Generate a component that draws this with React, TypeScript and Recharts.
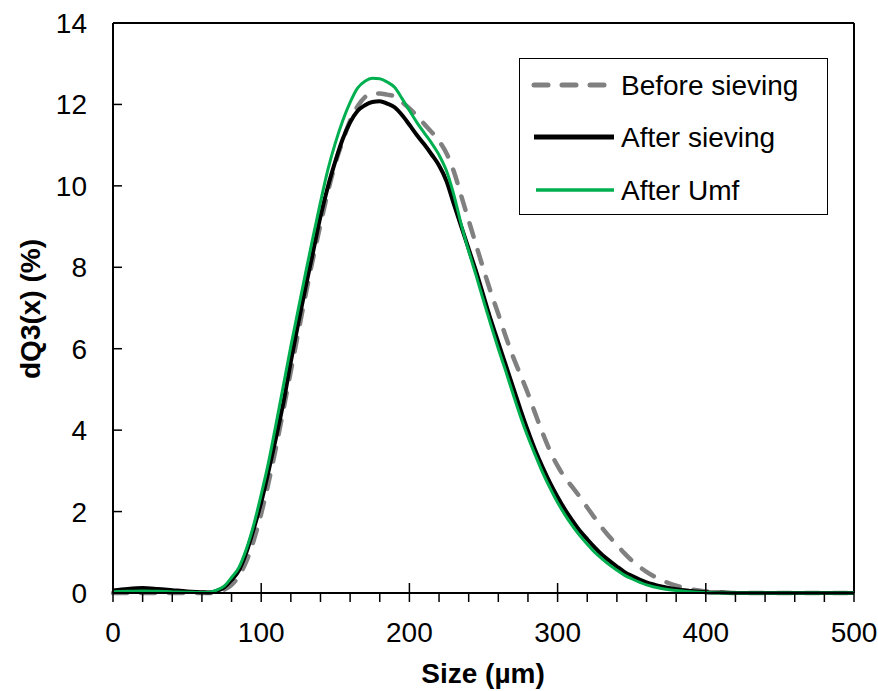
import React from "react";
import { Label, Legend, Line, LineChart, ReferenceLine, XAxis, YAxis } from "recharts";

if (typeof document !== "undefined") {
  document.body.style.margin = "0";
}

const sizes = [
  0, 10, 20, 30, 40, 50, 60, 65, 70, 75, 80, 85, 90, 95, 100, 105, 110, 115, 120, 125, 130, 135, 140,
  145, 150, 155, 160, 165, 170, 175, 180, 185, 190, 195, 200, 205, 210, 215, 220, 225, 230, 235, 240,
  245, 250, 255, 260, 265, 270, 275, 280, 285, 290, 295, 300, 305, 310, 315, 320, 325, 330, 335, 340,
  345, 350, 360, 370, 380, 390, 400, 410, 420, 440, 460, 480, 500,
];

const beforeSieving = [
  0, 0, 0, 0, 0, 0, 0, 0, 0.02, 0.08, 0.2, 0.42, 0.78, 1.3, 1.95, 2.72, 3.58, 4.5, 5.45, 6.4, 7.33,
  8.22, 9.05, 9.85, 10.55, 11.1, 11.6, 11.95, 12.18, 12.27, 12.27, 12.24, 12.2, 12.06, 11.9, 11.72,
  11.52, 11.32, 11.1, 10.8, 10.35, 9.75, 9.15, 8.55, 7.95, 7.38, 6.85, 6.3, 5.8, 5.35, 4.9, 4.4, 3.92,
  3.48, 3.12, 2.83, 2.6, 2.36, 2.1, 1.85, 1.6, 1.38, 1.18, 0.98, 0.8, 0.52, 0.32, 0.18, 0.09, 0.04,
  0.015, 0, 0, 0, 0, 0,
];

const afterSieving = [
  0.06, 0.1, 0.12, 0.1, 0.07, 0.04, 0.02, 0.01, 0.05, 0.14, 0.32, 0.56, 1.0, 1.58, 2.23, 3.0, 3.82,
  4.68, 5.69, 6.63, 7.52, 8.38, 9.25, 9.98, 10.6, 11.15, 11.56, 11.84, 11.98, 12.06, 12.08, 12.02,
  11.93, 11.74, 11.5, 11.25, 11.02, 10.77, 10.5, 10.12, 9.55, 9.0, 8.45, 7.9, 7.3, 6.7, 6.15, 5.6,
  5.05, 4.5, 3.98, 3.5, 3.08, 2.7, 2.36, 2.05, 1.78, 1.53, 1.32, 1.12, 0.94, 0.79, 0.65, 0.52, 0.42,
  0.26, 0.16, 0.09, 0.05, 0.02, 0.01, 0, 0, 0, 0, 0,
];

const afterUmf = [
  0.03, 0.04, 0.05, 0.04, 0.03, 0.02, 0.01, 0.02, 0.07, 0.17, 0.38, 0.63, 1.08, 1.68, 2.42, 3.22,
  4.15, 5.1, 6.06, 6.97, 7.87, 8.75, 9.6, 10.4, 11.05, 11.6, 12.05, 12.4, 12.57, 12.64, 12.63, 12.55,
  12.42, 12.15, 11.85, 11.56, 11.3, 11.05, 10.76, 10.37, 9.78, 9.05, 8.4, 7.8, 7.18, 6.58, 6.0, 5.45,
  4.88, 4.33, 3.83, 3.38, 2.95, 2.57, 2.22, 1.92, 1.65, 1.41, 1.2, 1.0, 0.84, 0.69, 0.56, 0.44, 0.35,
  0.2, 0.11, 0.06, 0.03, 0.01, 0, 0, 0, 0, 0, 0,
];

const xTicks = [
  0, 20, 40, 60, 80, 100, 120, 140, 160, 180, 200, 220, 240, 260, 280, 300, 320, 340, 360, 380, 400,
  420, 440, 460, 480, 500,
];
const yTicks = [0, 2, 4, 6, 8, 10, 12, 14];

const data = sizes.map((s, i) => ({
  size: s,
  before: beforeSieving[i],
  after: afterSieving[i],
  umf: afterUmf[i],
}));

const FONT = "'Liberation Sans', Arial, sans-serif";

const XTick = (props: any) => {
  const { x, y, payload } = props;
  const v = payload.value;
  const major = v % 100 === 0;
  const cross = major && v > 0 && v < 500;
  return (
    <g>
      <line x1={x} x2={x} y1={cross ? y - 10 : y} y2={y + 9} stroke="#000" strokeWidth={1.5} />
      {major && (
        <text x={x} y={y + 49} textAnchor="middle" fontSize={28} fontFamily={FONT} fill="#000">
          {v}
        </text>
      )}
    </g>
  );
};

const YTick = (props: any) => {
  const { x, y, payload } = props;
  return (
    <g>
      <line x1={x} x2={x + 9} y1={y} y2={y} stroke="#000" strokeWidth={1.5} />
      <text x={x - 26} y={y + 10} textAnchor="end" fontSize={28} fontFamily={FONT} fill="#000">
        {payload.value}
      </text>
    </g>
  );
};

const LegendBox = () => (
  <svg width={307} height={155} style={{ display: "block" }}>
    <line x1={14} x2={94} y1={26} y2={26} stroke="#808080" strokeWidth={5} strokeDasharray="14 14" strokeLinecap="round" />
    <line x1={14} x2={94} y1={78} y2={78} stroke="#000" strokeWidth={5} />
    <line x1={16} x2={94} y1={131} y2={131} stroke="#00B050" strokeWidth={3.5} />
    <text x={101} y={36} fontSize={28} fontFamily={FONT} fill="#000">Before sieving</text>
    <text x={101} y={88} fontSize={28} fontFamily={FONT} fill="#000">After sieving</text>
    <text x={101} y={141} fontSize={28} fontFamily={FONT} fill="#000">After Umf</text>
  </svg>
);

export default function App() {
  return (
    <div style={{ width: 878, height: 691, background: "#fff" }}>
      <LineChart
        width={878}
        height={691}
        data={data}
        margin={{ top: 23, right: 24, left: 13, bottom: 8 }}
      >
        <XAxis
          dataKey="size"
          type="number"
          domain={[0, 500]}
          ticks={xTicks}
          interval={0}
          height={90}
          tickLine={false}
          tickSize={0}
          tickMargin={0}
          tick={<XTick />}
          stroke="#000"
          strokeWidth={2}
        >
          <Label
            content={() => (
              <text x={483} y={683} textAnchor="middle" fontSize={28} fontWeight="bold" fontFamily={FONT} fill="#000">
                Size (µm)
              </text>
            )}
          />
        </XAxis>
        <YAxis
          type="number"
          domain={[0, 14]}
          ticks={yTicks}
          interval={0}
          width={100}
          tickLine={false}
          tickSize={0}
          tickMargin={0}
          tick={<YTick />}
          stroke="#000"
          strokeWidth={2}
        >
          <Label
            content={() => (
              <text
                x={30}
                y={309}
                transform="rotate(-90 30 309)"
                textAnchor="middle"
                dominantBaseline="central"
                fontSize={28}
                fontWeight="bold"
                fontFamily={FONT}
                fill="#000"
              >
                dQ3(x) (%)
              </text>
            )}
          />
        </YAxis>
        <ReferenceLine y={14} stroke="#000" strokeWidth={2} />
        <ReferenceLine x={500} stroke="#000" strokeWidth={2} />
        <Line
          dataKey="before"
          name="Before sieving"
          type="monotone"
          stroke="#808080"
          strokeWidth={4.5}
          strokeDasharray="14 14"
          strokeLinecap="round"
          dot={false}
          isAnimationActive={false}
        />
        <Line
          dataKey="after"
          name="After sieving"
          type="monotone"
          stroke="#000"
          strokeWidth={4}
          dot={false}
          isAnimationActive={false}
        />
        <Line
          dataKey="umf"
          name="After Umf"
          type="monotone"
          stroke="#00B050"
          strokeWidth={3}
          dot={false}
          isAnimationActive={false}
        />
        <Legend
          layout="vertical"
          align="center"
          verticalAlign="middle"
          content={<LegendBox />}
          wrapperStyle={{
            left: 519,
            top: 58,
            width: 309,
            height: 157,
            border: "1.5px solid #000",
            boxSizing: "border-box",
            background: "#fff",
          }}
        />
      </LineChart>
    </div>
  );
}
